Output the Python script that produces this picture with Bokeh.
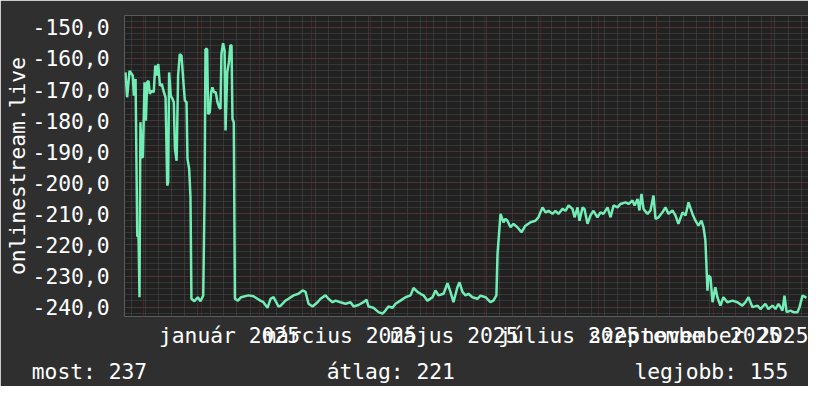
import pandas as pd
from bokeh.plotting import figure
from bokeh.models import (Range1d, FixedTicker, SingleIntervalTicker, Grid,
                          DatetimeAxis, AllLabels)
from bokeh.embed import file_html
from bokeh.resources import INLINE

# ---------------- data ----------------
start_date = "2024-11-21"
span_days = 364.9

day_offset = [
    0.5, 1.4, 2.7, 4.4, 5.0, 5.9, 6.8, 7.5, 8.0, 8.5, 9.2, 9.8, 10.7, 11.4, 12.1, 12.8,
    13.5, 14.6, 15.6, 16.4, 17.3, 18.0, 18.9, 19.9, 20.8, 21.9, 22.8, 23.3, 23.8, 24.7,
    25.6, 26.3, 26.9, 27.8, 28.6, 29.5, 30.4, 31.3, 32.2, 33.1, 33.6, 34.5, 35.2, 35.7,
    37.3, 39.1, 40.5, 42.0, 42.7, 43.2, 44.1, 44.6, 45.5, 46.2, 46.9, 47.8, 48.7, 49.6,
    50.5, 51.2, 51.7, 52.6, 53.4, 53.9, 54.8, 55.7, 56.5, 57.1, 57.6, 58.3, 58.9, 60.5,
    62.2, 66.1, 68.8, 70.9, 72.5, 74.1, 76.3, 77.9, 79.5, 82.2, 83.2, 85.9, 87.5, 90.2,
    92.8, 95.0, 96.6, 98.2, 100.3, 103.0, 104.6, 107.2, 108.8, 111.0, 112.6, 115.2, 117.9,
    120.6, 122.2, 124.8, 127.5, 129.1, 130.2, 132.8, 135.5, 137.6, 139.2, 140.8, 143.0,
    144.6, 147.2, 149.9, 152.6, 154.2, 156.3, 157.9, 159.5, 161.6, 164.3, 165.9, 167.5,
    170.2, 172.3, 173.9, 175.5, 177.6, 178.7, 180.3, 181.9, 183.5, 185.6, 188.3, 189.9,
    192.6, 195.2, 196.8, 198.4, 199.0, 200.6, 202.2, 203.2, 204.3, 205.9, 207.5, 209.6,
    211.8, 213.9, 216.6, 219.2, 220.8, 223.0, 224.6, 226.2, 228.3, 229.9, 231.5, 233.7,
    235.3, 236.9, 239.0, 240.1, 241.7, 242.7, 244.4, 245.4, 247.0, 248.6, 250.2, 252.3,
    253.9, 255.5, 257.7, 259.3, 260.9, 263.0, 264.6, 267.3, 268.9, 271.0, 272.1, 273.7,
    274.7, 275.8, 276.9, 279.0, 280.6, 282.2, 283.3, 284.9, 287.0, 288.6, 290.2, 292.3,
    293.9, 295.5, 297.7, 299.3, 300.9, 303.0, 304.6, 306.2, 307.8, 308.9, 309.9, 311.0,
    311.5, 312.6, 313.7, 315.2, 316.3, 317.9, 319.5, 321.6, 324.3, 327.0, 329.6, 331.3,
    332.9, 335.0, 337.7, 339.3, 341.9, 343.5, 345.7, 347.3, 348.9, 351.0, 352.1, 353.2,
    355.3, 356.9, 359.0, 360.1, 361.7, 363.3, 363.8,
]

rank = [
    164.5, 172.5, 164.0, 165.5, 172.0, 166.6, 217.0, 217.5, 236.8, 180.5, 191.8, 191.8,
    167.7, 180.0, 167.7, 167.2, 171.4, 170.4, 170.9, 162.3, 165.5, 161.8, 168.8, 168.2,
    170.4, 172.5, 200.9, 199.8, 164.5, 172.0, 173.0, 174.1, 189.1, 192.9, 165.5, 158.6,
    159.1, 166.6, 173.6, 174.1, 192.3, 195.5, 204.7, 237.3, 238.1, 236.8, 238.1, 236.3,
    205.2, 157.0, 157.0, 177.9, 177.3, 170.9, 169.3, 170.9, 170.9, 174.1, 175.7, 176.3,
    158.6, 155.1, 157.5, 183.2, 164.5, 161.3, 155.7, 155.9, 179.5, 180.5, 237.3, 237.9,
    236.8, 236.2, 236.5, 237.3, 237.9, 238.4, 240.2, 237.3, 236.8, 239.8, 239.6, 237.9,
    237.3, 236.2, 235.7, 234.6, 235.1, 238.9, 239.8, 238.4, 237.3, 236.2, 237.3, 238.4,
    237.9, 238.4, 238.9, 238.4, 239.8, 239.3, 238.4, 237.6, 239.8, 240.2, 241.6, 242.1,
    241.1, 239.8, 240.2, 238.9, 237.9, 236.8, 236.2, 233.8, 235.1, 235.7, 236.2, 237.9,
    236.8, 234.6, 236.2, 235.7, 232.3, 235.1, 238.4, 233.6, 232.0, 235.1, 236.2, 235.7,
    236.8, 237.3, 236.3, 236.8, 238.4, 237.9, 236.2, 222.9, 210.0, 212.7, 211.6, 212.2,
    214.3, 213.2, 214.3, 215.9, 213.8, 212.7, 212.2, 211.1, 207.9, 209.5, 209.0, 210.0,
    209.0, 210.0, 208.4, 209.0, 207.3, 208.4, 211.1, 207.9, 212.2, 207.9, 208.4, 213.2,
    210.5, 209.0, 211.1, 209.5, 210.0, 207.9, 211.1, 207.3, 207.9, 206.8, 206.3, 206.8,
    205.7, 207.3, 205.2, 208.9, 203.6, 208.4, 210.0, 208.9, 204.1, 211.6, 211.1, 209.5,
    207.9, 210.0, 208.9, 210.5, 213.2, 209.5, 210.5, 206.3, 210.0, 212.2, 213.8, 212.2,
    214.3, 218.6, 234.7, 229.8, 230.4, 238.4, 233.6, 236.8, 239.5, 236.8, 238.4, 237.9,
    238.4, 239.5, 238.4, 236.8, 240.0, 239.5, 240.6, 238.9, 240.6, 239.5, 240.6, 238.9,
    241.1, 236.3, 241.6, 241.1, 241.6, 241.6, 240.0, 236.3, 236.8, 237.0,
]

y_tick_values = [-150, -160, -170, -180, -190, -200, -210, -220, -230, -240]
month_label_dates = ["2025-01-16", "2025-03-16", "2025-05-16",
                     "2025-07-16", "2025-09-16", "2025-11-16"]
month_label_texts = ["január 2025", "március 2025", "május 2025",
                     "július 2025", "szeptember 2025", "november 2025"]
y_title = "onlinestream.live"
summary_most, summary_avg, summary_best = 237, 221, 155

# ---------------- style ----------------
FONT = "DejaVu Sans Mono"
FS = "21.3px"
OUTER = "#2f2f2f"
INNER = "#212121"
LINE = "#72EDB6"
GRID_GRAY = "#4d4d4d"
GRID_RED = "#662c2c"

W, H = 808, 386
BL, BR, BT, BB = 124, 0, 15, 70
FRAME_W = W - BL - BR

base = pd.Timestamp(start_date)
xs = base + pd.to_timedelta(day_offset, unit="D")
ys = [-r for r in rank]
x_start = base
x_end = base + pd.Timedelta(days=span_days)
y_low, y_high = -243.0, -146.2


def ms(ts):
    return int(pd.Timestamp(ts).value // 10**6)


p = figure(width=W, height=H, x_axis_type="datetime", output_backend="svg",
           toolbar_location=None,
           x_range=Range1d(ms(x_start), ms(x_end)), y_range=Range1d(y_low, y_high),
           min_border_left=BL, min_border_right=BR, min_border_top=BT,
           min_border_bottom=BB)
p.background_fill_color = INNER
p.border_fill_color = OUTER
p.outline_line_color = None
p.xgrid.visible = False
p.ygrid.visible = False

# grids: weekly (Mondays) / every 2 units in grey, monthly / every 10 units in red
weeks = pd.date_range("2024-11-25", x_end, freq="7D")
months = pd.date_range("2024-12-01", x_end, freq="MS")
p.add_layout(Grid(dimension=0, ticker=FixedTicker(ticks=[ms(t) for t in weeks]),
                  grid_line_color=GRID_GRAY, grid_line_dash="1 1", grid_line_width=1))
p.add_layout(Grid(dimension=1, ticker=SingleIntervalTicker(interval=2),
                  grid_line_color=GRID_GRAY, grid_line_dash="1 1", grid_line_width=1))
p.add_layout(Grid(dimension=0, ticker=FixedTicker(ticks=[ms(t) for t in months]),
                  grid_line_color=GRID_RED, grid_line_dash="1 1", grid_line_width=1))
p.add_layout(Grid(dimension=1, ticker=SingleIntervalTicker(interval=10),
                  grid_line_color=GRID_RED, grid_line_dash="1 1", grid_line_width=1))

# series
p.line(x=xs, y=ys, line_color=LINE, line_width=2.5)


def style_axis(ax, standoff):
    ax.axis_line_color = None
    ax.major_tick_line_color = None
    ax.minor_tick_line_color = None
    ax.major_tick_out = 0
    ax.major_tick_in = 0
    ax.major_label_text_color = "#ffffff"
    ax.major_label_text_font = FONT
    ax.major_label_text_font_size = FS
    ax.major_label_policy = AllLabels()
    ax.major_label_standoff = standoff


# axes
label_ms = [ms(d) for d in month_label_dates]
p.xaxis.ticker = FixedTicker(ticks=label_ms)
p.xaxis.major_label_overrides = {m: t for m, t in zip(label_ms, month_label_texts)}
style_axis(p.xaxis[0], 6)
p.yaxis.ticker = FixedTicker(ticks=y_tick_values)
p.yaxis.major_label_overrides = {v: f"{v:.1f}".replace(".", ",") for v in y_tick_values}
style_axis(p.yaxis[0], 15)
p.yaxis.axis_label = y_title
p.yaxis.axis_label_standoff = 0
p.yaxis.axis_label_text_font = FONT
p.yaxis.axis_label_text_font_size = FS
p.yaxis.axis_label_text_font_style = "normal"
p.yaxis.axis_label_text_color = "#ffffff"

# summary line printed under the time axis, in monospace columns like rrdtool
gap = "\u00a0" * 14
summary = (f"most: {summary_most}" + gap + f"átlag: {summary_avg}" + gap +
           f"legjobb: {summary_best}")
summary_center_px = 409.5 - BL          # pixel centre of the line, from the frame's left
summary_ms = int(ms(x_start) + summary_center_px / FRAME_W * (ms(x_end) - ms(x_start)))
summary_axis = DatetimeAxis(ticker=FixedTicker(ticks=[summary_ms]),
                            major_label_overrides={summary_ms: summary})
style_axis(summary_axis, 8)
p.add_layout(summary_axis, "below")

open("out.html", "w").write(file_html(p, INLINE))
